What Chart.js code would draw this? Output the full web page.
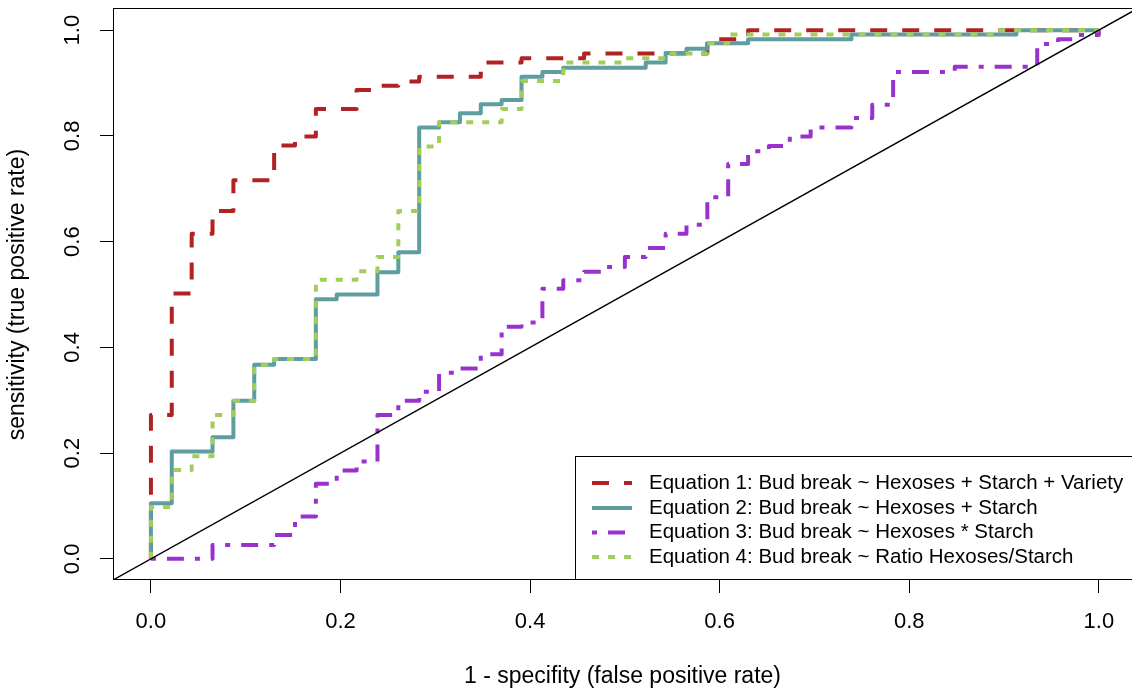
<!DOCTYPE html>
<html>
<head>
<meta charset="utf-8">
<title>ROC curves</title>
<script src="https://cdn.jsdelivr.net/npm/chart.js@4.4.1/dist/chart.umd.min.js"></script>
<style>
  html, body { margin: 0; padding: 0; background: #fff; }
  #wrap { width: 1132px; height: 691px; }
</style>
</head>
<body>
<div id="wrap"><canvas id="rocChart"></canvas></div>
<script>
// ROC coordinates (false positive rate, true positive rate)
// each point is the top of a rise, the curve steps right then up

// Equation 1
const eq1Fpr = [0, 0, 0.022, 0.043, 0.065, 0.087, 0.130, 0.152, 0.174, 0.217, 0.239, 0.261, 0.283, 0.348, 0.391, 0.457, 0.587, 0.630, 1];
const eq1Tpr = [0, 0.272, 0.502, 0.615, 0.658, 0.716, 0.782, 0.799, 0.851, 0.887, 0.895, 0.903, 0.912, 0.939, 0.947, 0.956, 0.983, 1, 1];

// Equation 2
const eq2Fpr = [0, 0, 0.022, 0.065, 0.087, 0.109, 0.130, 0.174, 0.196, 0.239, 0.261, 0.283, 0.304, 0.326, 0.348, 0.370, 0.391, 0.413, 0.435, 0.522, 0.543, 0.565, 0.587, 0.630, 0.739, 0.913, 1];
const eq2Tpr = [0, 0.105, 0.203, 0.230, 0.299, 0.367, 0.378, 0.491, 0.500, 0.542, 0.580, 0.816, 0.826, 0.843, 0.860, 0.868, 0.912, 0.921, 0.929, 0.939, 0.957, 0.965, 0.975, 0.983, 0.992, 1, 1];

// Equation 3
const eq3Fpr = [0, 0.065, 0.130, 0.152, 0.174, 0.196, 0.217, 0.239, 0.261, 0.283, 0.304, 0.326, 0.348, 0.370, 0.391, 0.413, 0.435, 0.457, 0.478, 0.500, 0.522, 0.543, 0.565, 0.587, 0.609, 0.630, 0.652, 0.674, 0.696, 0.739, 0.761, 0.783, 0.848, 0.935, 0.957, 0.978, 1];
const eq3Tpr = [0, 0.026, 0.045, 0.080, 0.142, 0.167, 0.184, 0.272, 0.299, 0.316, 0.352, 0.360, 0.387, 0.439, 0.447, 0.511, 0.527, 0.543, 0.552, 0.571, 0.588, 0.615, 0.632, 0.684, 0.747, 0.771, 0.781, 0.799, 0.816, 0.834, 0.859, 0.921, 0.931, 0.974, 0.983, 0.991, 1];

// Equation 4
const eq4Fpr = [0, 0, 0.022, 0.043, 0.065, 0.087, 0.109, 0.130, 0.174, 0.217, 0.239, 0.261, 0.283, 0.304, 0.370, 0.391, 0.435, 0.500, 0.543, 0.587, 0.609, 0.891, 1];
const eq4Tpr = [0, 0.098, 0.168, 0.194, 0.272, 0.299, 0.367, 0.378, 0.528, 0.544, 0.571, 0.658, 0.780, 0.826, 0.851, 0.904, 0.939, 0.947, 0.956, 0.975, 0.992, 1, 1];

// chance line, drawn across the whole plot region
const diagX = [-0.04, 1.04];
const diagY = [-0.04, 1.04];

const axisTicks = [0, 0.2, 0.4, 0.6, 0.8, 1.0];

const legendLabels = [
  "Equation 1: Bud break ~ Hexoses + Starch + Variety",
  "Equation 2: Bud break ~ Hexoses + Starch",
  "Equation 3: Bud break ~ Hexoses * Starch",
  "Equation 4: Bud break ~ Ratio Hexoses/Starch",
];

const FONT = '"Liberation Sans", Arial, Helvetica, sans-serif';

const toPoints = (xs, ys) => xs.map((x, i) => ({ x: x, y: ys[i] }));

// box around the plot + legend in the bottom right corner
const frameAndLegend = {
  id: "frameAndLegend",
  afterDatasetsDraw(chart) {
    const { ctx, chartArea } = chart;
    ctx.save();
    ctx.strokeStyle = "#000";
    ctx.lineWidth = 1;
    ctx.setLineDash([]);
    ctx.strokeRect(chartArea.left + 0.5, chartArea.top - 0.5, chartArea.right - chartArea.left + 10, chartArea.bottom - chartArea.top);

    // legend
    const boxLeft = 575.5, boxTop = 456.5;
    ctx.fillStyle = "#fff";
    ctx.fillRect(boxLeft, boxTop, 600, chartArea.bottom - boxTop - 0.5);
    ctx.strokeRect(boxLeft, boxTop, 600, chartArea.bottom - boxTop - 0.5);

    const rows = [483, 508, 532.5, 557];
    ctx.font = "20.5px " + FONT;
    ctx.textBaseline = "middle";
    ctx.textAlign = "left";
    for (let i = 0; i < 4; i++) {
      const ds = chart.data.datasets[i];
      ctx.strokeStyle = ds.borderColor;
      ctx.lineWidth = ds.borderWidth;
      ctx.lineCap = "butt";
      ctx.setLineDash(ds.borderDash || []);
      ctx.beginPath();
      ctx.moveTo(592, rows[i]);
      ctx.lineTo(632, rows[i]);
      ctx.stroke();
      ctx.fillStyle = "#000";
      ctx.fillText(legendLabels[i], 649, rows[i]);
    }
    ctx.restore();
  },
};

const ctx = document.getElementById("rocChart");
const rocChart = new Chart(ctx, {
  type: "line",
  data: {
    datasets: [
      {
        label: legendLabels[0],
        data: toPoints(eq1Fpr, eq1Tpr),
        borderColor: "rgb(178, 34, 34)",
        borderWidth: 4,
        borderDash: [17, 15],
        stepped: "before",
        order: 4,
      },
      {
        label: legendLabels[1],
        data: toPoints(eq2Fpr, eq2Tpr),
        borderColor: "rgb(95, 158, 160)",
        borderWidth: 4,
        stepped: "before",
        order: 3,
      },
      {
        label: legendLabels[2],
        data: toPoints(eq3Fpr, eq3Tpr),
        borderColor: "rgb(153, 50, 204)",
        borderWidth: 4,
        borderDash: [5, 11, 17, 11],
        stepped: "before",
        order: 2,
      },
      {
        label: legendLabels[3],
        data: toPoints(eq4Fpr, eq4Tpr),
        borderColor: "rgb(162, 205, 90)",
        borderWidth: 4,
        borderDash: [7, 9],
        stepped: "before",
        order: 1,
      },
      {
        label: "chance",
        data: toPoints(diagX, diagY),
        borderColor: "#000",
        borderWidth: 1.4,
        order: 0,
      },
    ],
  },
  options: {
    responsive: true,
    maintainAspectRatio: false,
    animation: false,
    events: [],
    layout: { padding: { top: 9, right: 0, bottom: 0, left: 0 } },
    elements: {
      point: { radius: 0 },
      line: { tension: 0, fill: false, borderCapStyle: "butt", borderJoinStyle: "round" },
    },
    plugins: {
      legend: { display: false },
      tooltip: { enabled: false },
    },
    scales: {
      x: {
        type: "linear",
        position: "bottom",
        min: -0.04,
        max: 1.035,
        afterBuildTicks: (scale) => {
          scale.ticks = axisTicks.map((v) => ({ value: v }));
        },
        afterFit: (scale) => {
          scale.height = 111;
          scale.paddingLeft = 0;
          scale.paddingRight = 0;
        },
        grid: { drawOnChartArea: false, drawTicks: true, tickLength: 13, color: "#000", tickWidth: 1 },
        border: { display: false },
        ticks: {
          color: "#000",
          font: { family: FONT, size: 22 },
          padding: 15.5,
          maxRotation: 0,
          autoSkip: false,
          callback: (v) => Number(v).toFixed(1),
        },
        title: {
          display: true,
          text: "1 - specifity (false positive rate)",
          color: "#000",
          font: { family: FONT, size: 23 },
          padding: { top: 0, bottom: 1 },
        },
      },
      y: {
        type: "linear",
        position: "left",
        min: -0.04,
        max: 1.04,
        afterBuildTicks: (scale) => {
          scale.ticks = axisTicks.map((v) => ({ value: v }));
        },
        afterFit: (scale) => {
          scale.width = 113;
          scale.paddingTop = 0;
          scale.paddingBottom = 0;
        },
        grid: { drawOnChartArea: false, drawTicks: true, tickLength: 13, color: "#000", tickWidth: 1 },
        border: { display: false },
        ticks: {
          color: "#000",
          font: { family: FONT, size: 22 },
          padding: 11.4,
          minRotation: 90,
          maxRotation: 90,
          crossAlign: "center",
          autoSkip: false,
          callback: (v) => Number(v).toFixed(1),
        },
        title: {
          display: true,
          text: "sensitivity (true positive rate)",
          color: "#000",
          font: { family: FONT, size: 23 },
          padding: { top: 4, bottom: 0 },
        },
      },
    },
  },
  plugins: [frameAndLegend],
});
</script>
</body>
</html>
